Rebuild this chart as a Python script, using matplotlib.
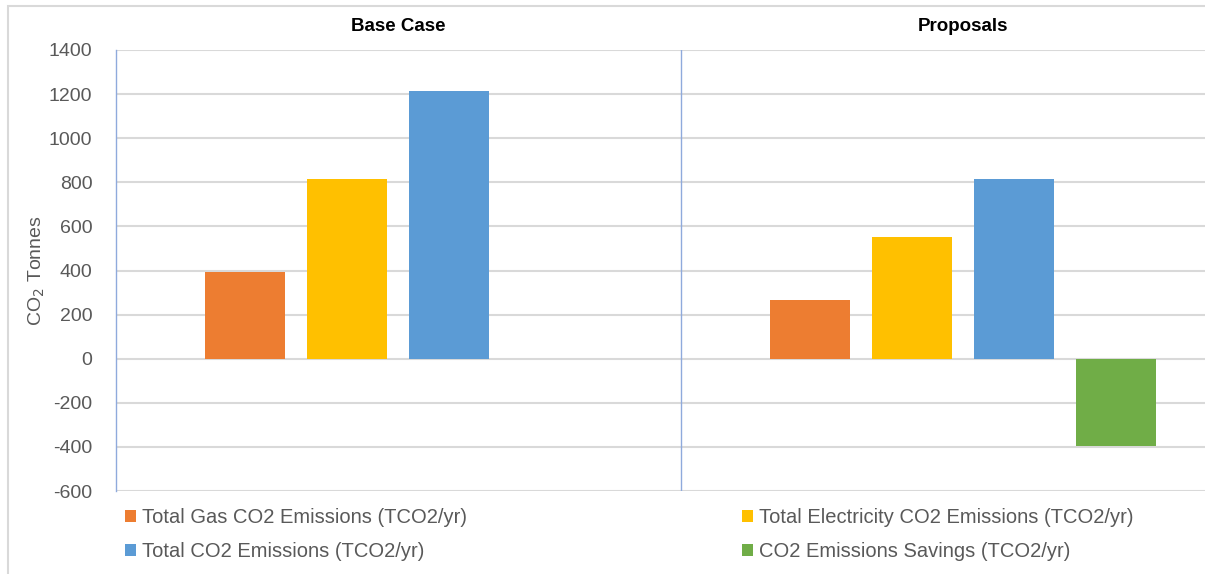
import numpy as np
from matplotlib import pyplot as plt
from matplotlib.patches import Rectangle

plt.rcParams["font.family"] = ["Liberation Sans", "DejaVu Sans"]
plt.rcParams["axes.unicode_minus"] = False

categories = ["Base Case", "Proposals"]
gas = [395, 265]
electricity = [817, 552]
total = [1212, 817]
savings = [0, -395]

series = [
    ("Total Gas CO2 Emissions (TCO2/yr)", gas, "#ED7D31"),
    ("Total Electricity CO2 Emissions (TCO2/yr)", electricity, "#FFC000"),
    ("Total CO2 Emissions (TCO2/yr)", total, "#5B9BD5"),
    ("CO2 Emissions Savings (TCO2/yr)", savings, "#70AD47"),
]

grey = "#595959"
grid_col = "#D9D9D9"
axis_blue = "#8FAADC"

fig = plt.figure(figsize=(12.05, 5.74), dpi=100)
# plot area runs off the right edge of the canvas
ax = fig.add_axes([116 / 1205, 83 / 574, 1129 / 1205, 441 / 574])

# chart frame
fig.patches.append(Rectangle((8 / 1205, -0.1), 1.2, 1.1 - 6 / 574,
                             transform=fig.transFigure, fill=False,
                             edgecolor=grid_col, linewidth=1.5))

x = np.arange(len(categories))
step = 0.1805
width = 0.1416
handles = []
for i, (name, vals, col) in enumerate(series):
    b = ax.bar(x + (i - 1.5) * step, vals, width, color=col, label=name,
               linewidth=0, zorder=3)
    handles.append(b)

ax.set_xlim(-0.5, 1.5)
ax.set_ylim(-600, 1400)
ax.set_yticks(np.arange(-600, 1401, 200))
ax.set_xticks([])
ax.yaxis.grid(True, color=grid_col, linewidth=1.5, zorder=0)
ax.set_axisbelow(True)
ax.tick_params(axis="y", length=0, labelsize=14, labelcolor=grey, pad=17)

for s in ["top", "right", "bottom"]:
    ax.spines[s].set_visible(False)
ax.spines["left"].set_color(axis_blue)
ax.spines["left"].set_linewidth(1.0)
ax.axvline(0.5, color=axis_blue, linewidth=1.0, zorder=1)

# category labels above each group
for xi, name in zip(x, categories):
    ax.text(xi, 1.035, name, transform=ax.get_xaxis_transform(),
            ha="center", va="bottom", fontsize=13.5, fontweight="bold")

ax.set_ylabel("CO$_2$ Tonnes", fontsize=14, color=grey)
ax.yaxis.set_label_coords(-0.061, 0.5)

leg_kw = dict(frameon=False, fontsize=14.5, labelcolor=grey, handlelength=0.55,
              handleheight=0.55, handletextpad=0.3, labelspacing=0.75,
              borderaxespad=0, borderpad=0)
leg1 = fig.legend([handles[0], handles[2]], [series[0][0], series[2][0]],
                  loc="upper left", bbox_to_anchor=(125 / 1205, 1 - 508 / 574),
                  **leg_kw)
leg2 = fig.legend([handles[1], handles[3]], [series[1][0], series[3][0]],
                  loc="upper left", bbox_to_anchor=(742 / 1205, 1 - 508 / 574),
                  **leg_kw)

plt.savefig("out.png", dpi=100)
